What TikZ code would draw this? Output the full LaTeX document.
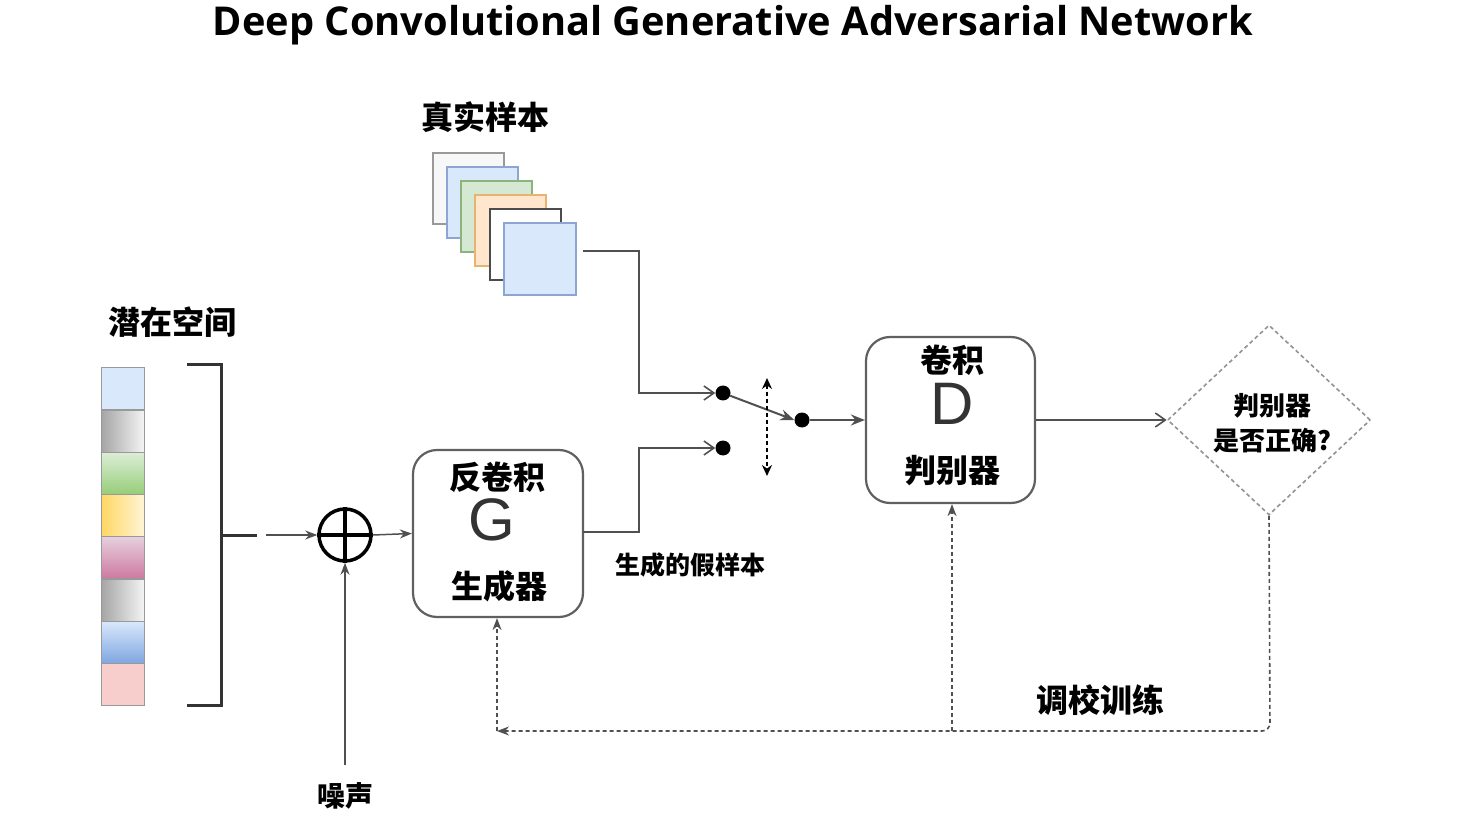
\documentclass[tikz,border=0pt]{standalone}
\usepackage{fontspec}
\setmainfont{Open Sans}
\newfontfamily\cjk{Noto Sans CJK SC}
\newfontfamily\letterfont{Liberation Sans}
\usetikzlibrary{arrows.meta,shapes.geometric}
\definecolor{lineg}{HTML}{505050}
\definecolor{boxg}{HTML}{606060}
\tikzset{
  conn/.style={draw=lineg, line width=2pt},
  openarr/.style={-{Straight Barb[length=10pt,width=14pt,line width=1.6pt]}},
  fillarr/.style={-{Stealth[length=14pt,width=11pt]}},
  smallarr/.style={-{Stealth[length=12pt,width=9pt]}},
  fb/.style={draw=lineg, line width=1.6pt, dash pattern=on 4pt off 3pt},
  blockbox/.style={draw=boxg, line width=2.2pt, rounded corners=24pt, fill=white, inner sep=0pt},
  sq/.style={draw, line width=2pt, minimum width=71pt, minimum height=71pt, inner sep=0pt, anchor=north west},
  cell/.style={draw=gray!80, line width=1.4pt, minimum width=43pt, minimum height=42.25pt, inner sep=0pt, anchor=north west},
  dot/.style={circle, fill=black, minimum size=15pt, inner sep=0pt},
  cjkbig/.style={font=\cjk\bfseries\fontsize{32}{34}\selectfont, inner sep=0pt},
  cjkmid/.style={font=\cjk\bfseries\fontsize{26}{30}\selectfont, inner sep=0pt},
  bigletter/.style={font=\letterfont\fontsize{60}{60}\selectfont, text=black!80, inner sep=0pt},
}
\begin{document}
\begin{tikzpicture}[x=1pt,y=-1pt]
\useasboundingbox (0,0) rectangle (1468,818);
\fill[white] (0,0) rectangle (1468,818);

% title
\node[inner sep=0pt] (title) at (733,25) {\resizebox{1040pt}{!}{\bfseries Deep Convolutional Generative Adversarial Network}};

% real samples
\node[cjkbig] (rslabel) at (485,117) {真实样本};
\node[sq, draw=gray!80, fill=gray!6] (sq1) at (432,152) {};
\node[sq, draw={rgb,255:red,140;green,165;blue,210}, fill={rgb,255:red,218;green,232;blue,252}] (sq2) at (446,166) {};
\node[sq, draw={rgb,255:red,140;green,180;blue,120}, fill={rgb,255:red,213;green,232;blue,212}] (sq3) at (460,180) {};
\node[sq, draw={rgb,255:red,230;green,180;blue,110}, fill={rgb,255:red,255;green,230;blue,204}] (sq4) at (474,194) {};
\node[sq, draw=black!70, fill=white] (sq5) at (489,208) {};
\node[sq, draw={rgb,255:red,140;green,165;blue,210}, fill={rgb,255:red,218;green,232;blue,252}, minimum width=72pt, minimum height=72pt] (sq6) at (503,222) {};

% latent space
\node[cjkbig] (lslabel) at (172,322) {潜在空间};
\node[cell, fill={rgb,255:red,218;green,232;blue,252}] (c1) at (101,367) {};
\node[cell, left color=gray!70, right color=gray!8] (c2) at (101,409.25) {};
\node[cell, top color={rgb,255:red,220;green,238;blue,215}, bottom color={rgb,255:red,150;green,205;blue,120}] (c3) at (101,451.5) {};
\node[cell, left color={rgb,255:red,255;green,215;blue,100}, right color={rgb,255:red,255;green,245;blue,215}] (c4) at (101,493.75) {};
\node[cell, top color={rgb,255:red,230;green,208;blue,222}, bottom color={rgb,255:red,205;green,120;blue,160}] (c5) at (101,536) {};
\node[cell, left color=gray!70, right color=gray!8] (c6) at (101,578.25) {};
\node[cell, top color={rgb,255:red,218;green,232;blue,252}, bottom color={rgb,255:red,126;green,166;blue,224}] (c7) at (101,620.5) {};
\node[cell, fill={rgb,255:red,248;green,206;blue,204}] (c8) at (101,662.75) {};

% bracket
\coordinate (bt) at (187,365);
\coordinate (bb) at (187,705);
\coordinate (bm) at (221,535);
\coordinate (bmr) at (257,535);
\draw[black!80, line width=3pt] (bt) -| (bm) |- (bb);
\draw[black!80, line width=3pt] (bm) -- (bmr);

% circle plus
\node[circle, draw=black, line width=3.5pt, minimum size=52pt, inner sep=0pt] (plus) at (345,535) {};
\draw[black, line width=3.5pt] (plus.north) -- (plus.south);
\draw[black, line width=3.5pt] (plus.west) -- (plus.east);
\coordinate (arrst) at (266,535);
\draw[conn, line width=1.5pt, smallarr] (arrst) -- (plus.west);

% noise
\node[cjkmid, font=\cjk\bfseries\fontsize{28}{30}\selectfont] (noise) at (345,796) {噪声};
\coordinate (nst) at (345,765);
\draw[conn, line width=1.5pt, smallarr] (nst) -- (plus.south);

% G box
\node[blockbox, minimum width=170pt, minimum height=167pt] (G) at (498,533.5) {};
\node[cjkbig] (Gt) at (497,477) {反卷积};
\node[bigletter] (Gl) at (492,520) {G};
\node[cjkbig] (Gb) at (499,586) {生成器};
\draw[conn, line width=1.5pt, smallarr] (plus.east) -- (G.west);

% fake label
\node[cjkmid, font=\cjk\bfseries\fontsize{25}{26}\selectfont] (fake) at (690,565) {生成的假样本};

% switch
\node[dot] (s1) at (723,393) {};
\node[dot] (s2) at (723,448) {};
\node[dot] (s3) at (802,420) {};
\coordinate (rsst) at (583,251);
\coordinate (rscorner) at (639,251);
\draw[conn, openarr] (rsst) -- (rscorner) |- (s1.west);
\coordinate (gout) at (583,532);
\coordinate (gcorner) at (639,532);
\draw[conn, openarr] (gout) -- (gcorner) |- (s2.west);
\draw[conn, fillarr] (s1) -- (s3.west);
\coordinate (sw1) at (767,378);
\coordinate (sw2) at (767,476);
\draw[draw=black, line width=1.6pt, dash pattern=on 4pt off 3pt, {Stealth[length=11pt,width=10pt]}-{Stealth[length=11pt,width=10pt]}] (sw1) -- (sw2);

% D box
\node[blockbox, minimum width=169pt, minimum height=166pt] (D) at (950.5,420) {};
\node[cjkbig] (Dt) at (952,360) {卷积};
\node[bigletter] (Dl) at (952,404) {D};
\node[cjkbig] (Db) at (952,471) {判别器};
\draw[conn, fillarr] (s3) -- (D.west);

% diamond
\node[diamond, draw=gray!85, line width=1.6pt, dash pattern=on 4pt off 3pt, minimum width=203pt, minimum height=190pt, inner sep=0pt, aspect=1.07] (Q) at (1269,420) {};
\node[cjkmid] (Qt) at (1272,406) {判别器};
\node[cjkmid] (Qb) at (1272,441) {是否正确?};
\draw[conn, openarr] (D.east) -- (Q.west);

% feedback
\node[cjkbig] (tune) at (1100,700) {调校训练};
\coordinate (fbR) at (1270,731);
\coordinate (fbM) at (952,731);
\coordinate (fbL) at (497,731);
\draw[fb, rounded corners=8pt, smallarr] (Q.south) -- (fbR) -- (fbL);
\draw[fb, smallarr] (fbL) -- (G.south -| fbL);
\draw[fb, smallarr] (fbM) -- (D.south -| fbM);
\end{tikzpicture}
\end{document}
